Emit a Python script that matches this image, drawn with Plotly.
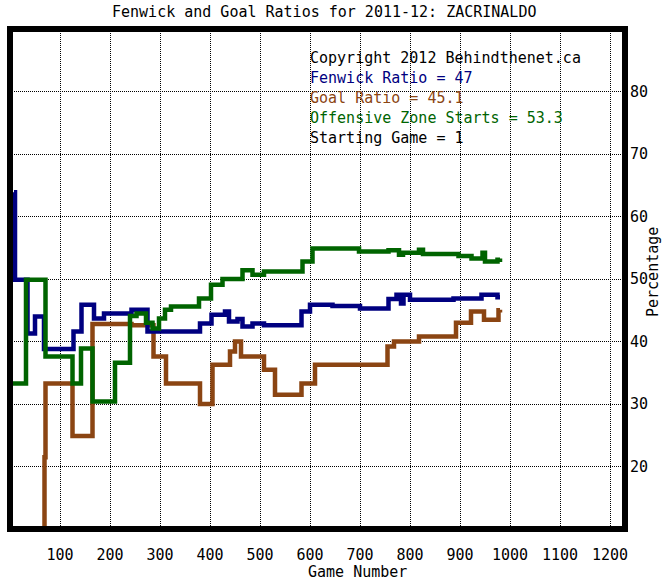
import plotly.graph_objects as go

# ---- data (step change points: game number, ratio %) ----
fenwick_x = [8, 10, 35, 50, 68, 127, 143, 168, 188, 243, 275, 380, 403, 430, 438, 455, 465, 485, 508,
             583, 600, 645, 700, 757, 773, 782, 787, 800, 887, 943, 975, 980]
fenwick_y = [63.9, 49.9, 41.3, 44.0, 38.8, 41.6, 45.9, 43.7, 44.5, 45.1, 41.6, 42.9, 44.3, 44.8, 43.2, 43.6, 42.4, 42.9, 42.6,
             44.8, 45.9, 45.7, 45.3, 46.8, 47.5, 46.1, 47.5, 46.7, 46.9, 47.5, 47.1, 47.1]

goal_x = [66, 69, 71, 125, 165, 243, 287, 312, 380, 405, 440, 450, 462, 508, 530, 583, 610,
          755, 768, 818, 892, 922, 948, 977, 980]
goal_y = [0.0, 21.5, 33.3, 24.9, 42.8, 42.6, 37.6, 33.3, 30.0, 36.3, 38.4, 40.0, 37.6, 35.5, 31.5, 33.3, 36.3,
          39.2, 40.0, 40.8, 43.0, 44.8, 43.5, 45.0, 45.1]

ozs_x = [5, 32, 71, 125, 142, 165, 210, 240, 253, 272, 285, 298, 310, 322, 378, 402, 425, 465, 485, 508,
         585, 605, 698, 757, 778, 786, 818, 826, 897, 923, 945, 950, 975, 980]
ozs_y = [33.3, 49.9, 37.6, 33.3, 38.9, 30.4, 36.6, 44.1, 44.5, 43.0, 42.1, 43.7, 45.1, 45.6, 46.9, 49.1, 50.0, 51.4, 50.7, 51.2,
         52.8, 54.9, 54.4, 54.6, 53.9, 54.2, 54.7, 54.0, 53.7, 53.3, 54.2, 52.8, 53.1, 53.3]

x_ticks = [100, 200, 300, 400, 500, 600, 700, 800, 900, 1000, 1100, 1200]
y_ticks = [20, 30, 40, 50, 60, 70, 80]

title_text = "Fenwick and Goal Ratios for 2011-12: ZACRINALDO"
info_lines = [
    ("Copyright 2012 Behindthenet.ca", "#000000"),
    ("Fenwick Ratio = 47", "#000080"),
    ("Goal Ratio = 45.1", "#8B4513"),
    ("Offensive Zone Starts = 53.3", "#006400"),
    ("Starting Game = 1", "#000000"),
]

NAVY, BROWN, GREEN = "#000080", "#8B4513", "#006400"
FONT = "DejaVu Sans Mono"

W, H = 665, 580
ML, MR, MT, MB = 10, 40, 29, 51
PW, PH = W - ML - MR, H - MT - MB


def px(xp):
    return (xp - ML) / PW


def py(yp):
    return (H - MB - yp) / PH


fig = go.Figure()
for xs, ys, col in [(goal_x, goal_y, BROWN), (fenwick_x, fenwick_y, NAVY), (ozs_x, ozs_y, GREEN)]:
    fig.add_trace(go.Scatter(x=xs, y=ys, mode="lines", line=dict(color=col, width=4.5, shape="hv"),
                             hoverinfo="skip", showlegend=False))

grid = dict(showgrid=True, gridcolor="black", gridwidth=1, griddash="1px,1px", zeroline=False,
            showline=False, tickfont=dict(family=FONT, size=15, color="black"))

fig.update_xaxes(range=[0, 1230], tickvals=x_ticks, ticktext=[str(v) for v in x_ticks],
                 ticks="", ticklabelstandoff=15, **grid)
fig.update_yaxes(range=[10, 90], tickvals=y_ticks, ticktext=[str(v) for v in y_ticks],
                 side="right", ticks="", ticklabelstandoff=4, **grid)

annotations = [
    dict(text=title_text, x=px(324), y=py(12), xref="paper", yref="paper", showarrow=False,
         xanchor="center", yanchor="middle", font=dict(family=FONT, size=15, color="black")),
    dict(text="Game Number", x=px(358), y=py(571.5), xref="paper", yref="paper", showarrow=False,
         xanchor="center", yanchor="middle", font=dict(family=FONT, size=15, color="black")),
    dict(text="Percentage", x=px(653), y=py(272), xref="paper", yref="paper", showarrow=False,
         textangle=-90, xanchor="center", yanchor="middle", font=dict(family=FONT, size=15, color="black")),
]
for i, (txt, col) in enumerate(info_lines):
    annotations.append(dict(text=txt, x=px(308), y=py(58.3 + 20 * i), xref="paper", yref="paper",
                            showarrow=False, xanchor="left", yanchor="middle",
                            font=dict(family=FONT, size=15, color=col)))

fig.update_layout(
    width=W, height=H, autosize=False,
    margin=dict(l=ML, r=MR, t=MT, b=MB, pad=0),
    paper_bgcolor="white", plot_bgcolor="white",
    annotations=annotations,
    shapes=[dict(type="rect", xref="paper", yref="paper", x0=0, x1=1, y0=0, y1=1,
                 line=dict(color="black", width=6), layer="above")],
)

fig.write_html("out.html", config={"displayModeBar": False},
               post_script="document.body.style.margin='0';document.body.style.overflow='hidden';")
